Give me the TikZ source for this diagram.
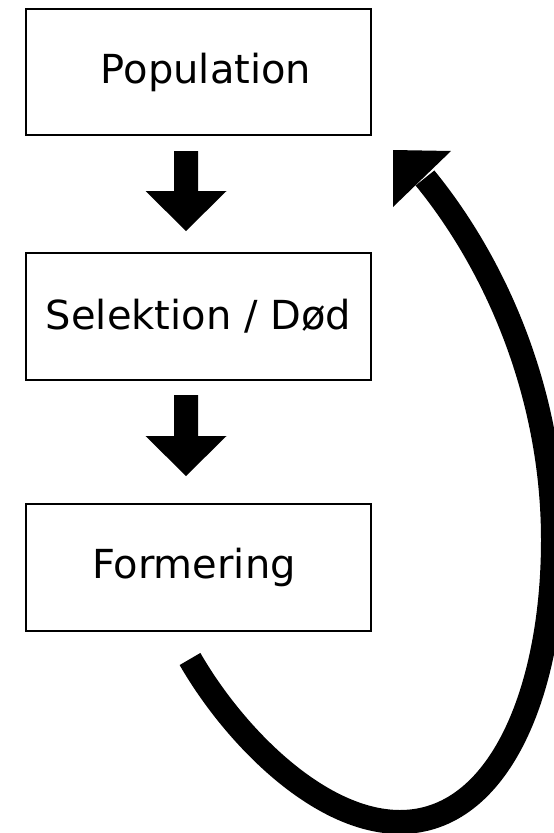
\documentclass[tikz,border=0pt]{standalone}
\usepackage{fontspec}
\setmainfont{DejaVu Sans}
\begin{document}
\begin{tikzpicture}[x=1pt,y=-1pt,
  box/.style={draw=black, line width=1.8pt, minimum width=345pt, minimum height=127pt,
    inner sep=0pt, font=\fontsize{40}{48}\selectfont},
  blockarrow/.style={fill=black},
  loopline/.style={draw=black, line width=24pt},
  loophead/.style={fill=black}]
\useasboundingbox (0,0) rectangle (554,833);
\node[box, minimum height=126pt] (pop) at (198.5,72) {\hspace*{15pt}Population};
\node[box] (sel) at (198.5,316.5) {Selektion / Død};
\node[box] (form) at (198.5,567.5) {Formering\hspace*{9pt}};
% block arrows
\coordinate (a1) at (186,151);
\coordinate (a2) at (186,395);
\fill[blockarrow] (a1) ++(-12,0) -- ++(24,0) -- ++(0,40) -- ++(28.5,0) -- ++(-40.5,40) -- ++(-40.5,-40) -- ++(28.5,0) -- cycle;
\fill[blockarrow] (a2) ++(-12,0) -- ++(24,0) -- ++(0,41) -- ++(28.5,0) -- ++(-40.5,40) -- ++(-40.5,-40) -- ++(28.5,0) -- cycle;
% loop arrow
\coordinate (tail) at (190,659);
\coordinate (bottom) at (400,822);
\coordinate (right) at (553,540);
\coordinate (headbase) at (425,178);
\coordinate (tip) at (393,150);
\draw[loopline] (tail) .. controls (235,737) and (320,822) .. (bottom)
  .. controls (500,822) and (553,690) .. (right)
  .. controls (553,400) and (500,270) .. (headbase);
\fill[loophead] (tip) -- (451,151) -- (393,207) -- cycle;
\end{tikzpicture}
\end{document}
